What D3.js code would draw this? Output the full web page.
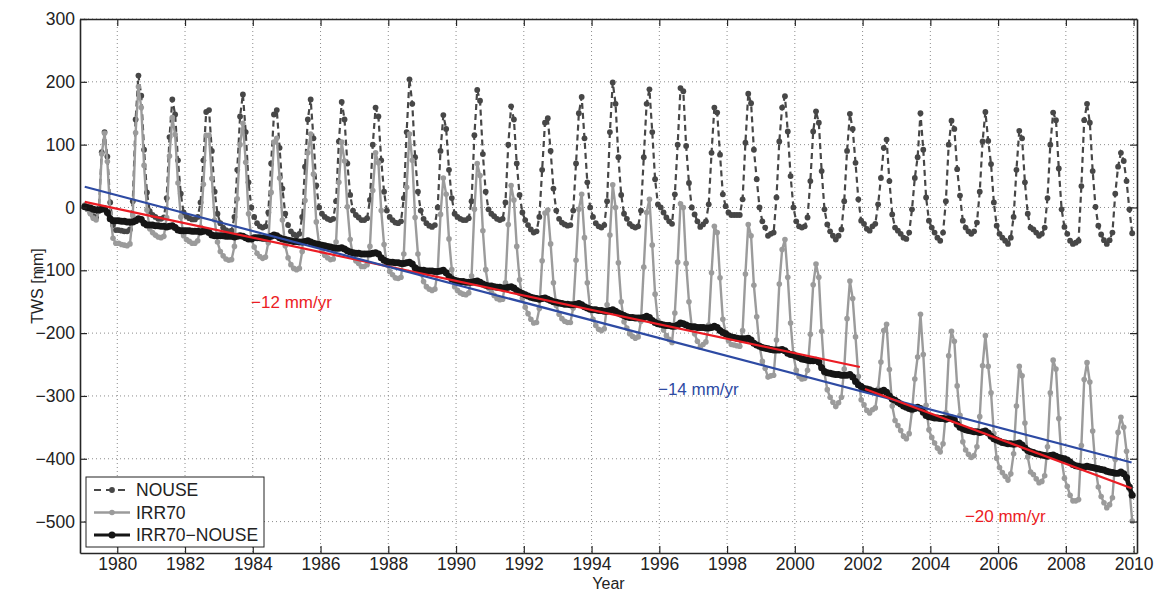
<!DOCTYPE html>
<html>
<head>
<meta charset="utf-8">
<script src="https://cdnjs.cloudflare.com/ajax/libs/d3/7.8.5/d3.min.js"></script>
<style>
  body { margin: 0; background: #fff; }
  svg { display: block; font-family: "Liberation Sans", Arial, Helvetica, sans-serif; }
</style>
</head>
<body>
<svg id="chart"></svg>
<script>
var width = 1154;
var height = 592;
var margin = {left: 80, right: 17, top: 19, bottom: 39};

// monthly values, Jan..Dec, one row per year
var years = [1979, 1980, 1981, 1982, 1983, 1984, 1985, 1986, 1987, 1988,
             1989, 1990, 1991, 1992, 1993, 1994, 1995, 1996, 1997, 1998,
             1999, 2000, 2001, 2002, 2003, 2004, 2005, 2006, 2007, 2008, 2009];

var nouse = [
  [3, -3, -9, -14, -16, -2, 88, 120, 81, 8, -28, -36],
  [-36, -37, -38, -38, -35, 10, 140, 210, 178, 92, 24, -6],
  [-12, -15, -18, -18, -16, 15, 112, 172, 148, 75, 22, -8],
  [-14, -17, -19, -19, -15, 8, 75, 152, 155, 90, 25, -10],
  [-25, -32, -36, -38, -37, -15, 60, 145, 180, 120, 40, 0],
  [-15, -25, -30, -32, -30, -8, 70, 148, 155, 95, 30, -10],
  [-28, -38, -43, -45, -42, -15, 65, 140, 172, 110, 35, 0],
  [-10, -15, -18, -20, -18, 10, 105, 168, 140, 70, 20, -5],
  [-12, -16, -20, -20, -17, 12, 100, 159, 145, 75, 25, -5],
  [-15, -20, -24, -25, -22, 15, 120, 204, 165, 80, 25, -5],
  [-18, -25, -29, -31, -28, 0, 90, 147, 125, 60, 15, -10],
  [-15, -18, -20, -20, -17, 10, 115, 187, 170, 85, 25, -3],
  [-10, -14, -18, -20, -18, 8, 100, 161, 140, 70, 20, -8],
  [-20, -28, -35, -40, -38, -15, 60, 135, 142, 90, 30, -5],
  [-18, -24, -27, -29, -28, -5, 70, 150, 176, 110, 40, 0],
  [-15, -25, -30, -32, -28, 10, 120, 199, 165, 80, 20, -10],
  [-18, -26, -30, -32, -30, -5, 80, 165, 188, 120, 45, 5],
  [0, -8, -16, -22, -26, 21, 100, 190, 185, 98, 39, 0],
  [-11, -22, -31, -27, -22, 5, 87, 159, 151, 84, 21, 2],
  [-8, -12, -12, -12, -12, 13, 103, 181, 166, 92, 45, 0],
  [-22, -32, -45, -42, -40, 16, 105, 159, 177, 121, 50, 0],
  [-22, -30, -32, -30, -16, 42, 121, 153, 135, 58, -3, -27],
  [-38, -45, -51, -45, -35, 10, 90, 149, 125, 71, 13, -21],
  [-26, -34, -37, -30, -26, 5, 47, 95, 108, 42, -11, -32],
  [-37, -42, -48, -50, -40, -3, 47, 80, 150, 92, 16, -21],
  [-32, -40, -48, -53, -40, 10, 100, 138, 125, 61, 19, -21],
  [-32, -38, -42, -38, -24, 25, 105, 152, 106, 69, 8, -29],
  [-42, -48, -53, -58, -48, -15, 60, 122, 110, 40, -10, -32],
  [-35, -40, -45, -42, -32, 15, 100, 151, 139, 62, -3, -31],
  [-42, -53, -58, -56, -53, 34, 139, 165, 135, 58, 1, -29],
  [-43, -52, -58, -52, -40, 22, 65, 87, 74, 42, -3, -41]
];

var irr70 = [
  [4, -3, -10, -17, -20, -6, 85, 118, 73, -10, -49, -57],
  [-57, -59, -60, -61, -58, -13, 119, 192, 159, 67, -4, -34],
  [-40, -44, -47, -48, -46, -16, 82, 143, 116, 39, -15, -45],
  [-51, -54, -57, -57, -53, -31, 37, 115, 115, 46, -20, -55],
  [-70, -77, -82, -84, -83, -62, 14, 100, 134, 72, -10, -50],
  [-63, -73, -78, -81, -79, -56, 24, 104, 110, 47, -20, -61],
  [-80, -91, -97, -99, -97, -70, 11, 87, 117, 53, -23, -59],
  [-70, -76, -80, -83, -82, -55, 40, 104, 74, 1, -51, -77],
  [-85, -89, -94, -94, -91, -62, 27, 87, 71, -5, -59, -91],
  [-102, -107, -112, -113, -111, -74, 32, 117, 75, -16, -74, -105],
  [-118, -126, -130, -132, -130, -102, -11, 47, 21, -50, -99, -126],
  [-132, -136, -138, -139, -136, -109, -3, 70, 51, -37, -99, -128],
  [-135, -140, -145, -147, -146, -120, -27, 35, 12, -62, -115, -145],
  [-159, -169, -178, -184, -183, -161, -85, -9, -4, -58, -120, -156],
  [-170, -177, -181, -183, -183, -160, -84, -3, 21, -48, -120, -162],
  [-178, -188, -194, -196, -193, -155, -44, 36, 0, -88, -150, -182],
  [-192, -201, -205, -208, -206, -181, -95, -8, 13, -60, -138, -180],
  [-186, -195, -204, -210, -215, -168, -87, 6, 0, -89, -150, -190],
  [-201, -213, -222, -218, -214, -187, -104, -30, -40, -112, -178, -199],
  [-212, -218, -219, -220, -221, -196, -106, -27, -45, -124, -174, -221],
  [-245, -256, -270, -268, -267, -211, -122, -67, -51, -111, -184, -235],
  [-259, -269, -273, -272, -259, -202, -123, -90, -111, -197, -264, -290],
  [-302, -310, -317, -311, -302, -257, -177, -117, -145, -206, -269, -306],
  [-314, -323, -327, -322, -319, -289, -246, -196, -186, -258, -316, -339],
  [-347, -355, -364, -368, -360, -324, -273, -238, -170, -234, -315, -354],
  [-366, -375, -383, -389, -376, -327, -236, -197, -213, -284, -331, -373],
  [-386, -393, -398, -395, -381, -333, -252, -204, -253, -295, -360, -399],
  [-414, -422, -428, -434, -424, -392, -316, -253, -268, -343, -397, -421],
  [-425, -432, -438, -436, -427, -381, -295, -243, -257, -336, -402, -431],
  [-444, -458, -467, -467, -465, -379, -274, -247, -278, -356, -414, -445],
  [-460, -470, -478, -473, -462, -401, -358, -334, -350, -388, -448, -499]
];

var irr70MinusNouse = [
  [1, 0, -1, -3, -4, -4, -3, -2, -8, -18, -21, -21],
  [-21, -22, -22, -23, -23, -23, -21, -18, -19, -25, -28, -28],
  [-28, -29, -29, -30, -30, -31, -30, -29, -32, -36, -37, -37],
  [-37, -37, -38, -38, -38, -39, -38, -37, -40, -44, -45, -45],
  [-45, -45, -46, -46, -46, -47, -46, -45, -46, -48, -50, -50],
  [-48, -48, -48, -49, -49, -48, -46, -44, -45, -48, -50, -51],
  [-52, -53, -54, -54, -55, -55, -54, -53, -55, -57, -58, -59],
  [-60, -61, -62, -63, -64, -65, -65, -64, -66, -69, -71, -72],
  [-73, -73, -74, -74, -74, -74, -73, -72, -74, -80, -84, -86],
  [-87, -87, -88, -88, -89, -89, -88, -87, -90, -96, -99, -100],
  [-100, -101, -101, -101, -102, -102, -101, -100, -104, -110, -114, -116],
  [-117, -118, -118, -119, -119, -119, -118, -117, -119, -122, -124, -125],
  [-125, -126, -127, -127, -128, -128, -127, -126, -128, -132, -135, -137],
  [-139, -141, -143, -144, -145, -146, -145, -144, -146, -148, -150, -151],
  [-152, -153, -154, -154, -155, -155, -154, -153, -155, -158, -160, -162],
  [-163, -163, -164, -164, -165, -165, -164, -163, -165, -168, -170, -172],
  [-174, -175, -175, -176, -176, -176, -175, -173, -175, -180, -183, -185],
  [-186, -187, -188, -188, -189, -189, -187, -184, -185, -187, -189, -190],
  [-190, -191, -191, -191, -192, -192, -191, -189, -191, -196, -199, -201],
  [-204, -206, -207, -208, -209, -209, -209, -208, -211, -216, -219, -221],
  [-223, -224, -225, -226, -227, -227, -227, -226, -228, -232, -234, -235],
  [-237, -239, -241, -242, -243, -244, -244, -243, -246, -255, -261, -263],
  [-264, -265, -266, -266, -267, -267, -267, -266, -270, -277, -282, -285],
  [-288, -289, -290, -292, -293, -294, -293, -291, -294, -300, -305, -307],
  [-310, -313, -316, -318, -320, -321, -320, -318, -320, -326, -331, -333],
  [-334, -335, -335, -336, -336, -337, -336, -335, -338, -345, -350, -352],
  [-354, -355, -356, -357, -357, -358, -357, -356, -359, -364, -368, -370],
  [-372, -374, -375, -376, -376, -377, -376, -375, -378, -383, -387, -389],
  [-390, -392, -393, -394, -395, -396, -395, -394, -396, -398, -399, -400],
  [-402, -405, -409, -411, -412, -413, -413, -412, -413, -414, -415, -416],
  [-417, -418, -420, -421, -422, -423, -423, -421, -424, -430, -445, -458]
];

// linear fits: [start year, start mm, end year, end mm]
var fit1979to2001 = [1979.04, 9, 2001.92, -254];
var fitWhole = [1979.04, 33, 2009.94, -406];
var fit2002to2009 = [2002.07, -289, 2009.94, -447];
var fitLabels = ["\u221212 mm/yr", "\u221214 mm/yr", "\u221220 mm/yr"];

var xTicks = [1980, 1982, 1984, 1986, 1988, 1990, 1992, 1994, 1996, 1998,
              2000, 2002, 2004, 2006, 2008, 2010];
var yTicks = [-500, -400, -300, -200, -100, 0, 100, 200, 300];
var seriesNames = ["NOUSE", "IRR70", "IRR70\u2212NOUSE"];

/////////////////////////////////////////

var svg = d3.select("#chart")
    .attr("width", width)
    .attr("height", height);

var x = d3.scaleLinear()
    .domain([1978.9, 2010.1])
    .range([margin.left, width - margin.right]);

var y = d3.scaleLinear()
    .domain([-550, 300])
    .range([height - margin.bottom, margin.top]);

function monthly(rows) {
  var out = [];
  rows.forEach(function(row, i) {
    row.forEach(function(v, m) {
      out.push({t: years[i] + (m + 0.5) / 12, v: v});
    });
  });
  return out;
}

function minusSign(d) {
  return d < 0 ? "\u2212" + Math.abs(d) : String(d);
}

svg.append("defs").append("clipPath")
    .attr("id", "plot-clip")
  .append("rect")
    .attr("x", margin.left)
    .attr("y", margin.top)
    .attr("width", width - margin.left - margin.right)
    .attr("height", height - margin.top - margin.bottom);

// dotted grid
var grid = svg.append("g").attr("class", "grid")
    .attr("stroke", "#8c8c8c")
    .attr("stroke-width", 1)
    .attr("stroke-dasharray", "1,3");

grid.selectAll(".vgrid")
  .data(xTicks)
  .enter().append("line")
    .attr("x1", function(d) { return x(d); })
    .attr("x2", function(d) { return x(d); })
    .attr("y1", margin.top)
    .attr("y2", height - margin.bottom);

grid.selectAll(".hgrid")
  .data(yTicks)
  .enter().append("line")
    .attr("x1", margin.left)
    .attr("x2", width - margin.right)
    .attr("y1", function(d) { return y(d); })
    .attr("y2", function(d) { return y(d); });

var line = d3.line()
    .x(function(d) { return x(d.t); })
    .y(function(d) { return y(d.v); });

var plot = svg.append("g").attr("clip-path", "url(#plot-clip)");

var series = [
  {data: monthly(nouse), color: "#474747", width: 2.2, dash: "6,4", r: 2.9},
  {data: monthly(irr70), color: "#9b9b9b", width: 2.4, dash: null, r: 2.8},
  {data: monthly(irr70MinusNouse), color: "#151515", width: 4.6, dash: null, r: 3.5}
];

series.forEach(function(s) {
  var g = plot.append("g");
  g.append("path")
      .datum(s.data)
      .attr("d", line)
      .attr("fill", "none")
      .attr("stroke", s.color)
      .attr("stroke-width", s.width)
      .attr("stroke-dasharray", s.dash);
  g.selectAll("circle")
    .data(s.data)
    .enter().append("circle")
      .attr("cx", function(d) { return x(d.t); })
      .attr("cy", function(d) { return y(d.v); })
      .attr("r", s.r)
      .attr("fill", s.color);
});

// trend lines
var fits = [
  {f: fit1979to2001, color: "#ec1c24"},
  {f: fitWhole, color: "#2d4aa3"},
  {f: fit2002to2009, color: "#ec1c24"}
];

plot.selectAll(".fit")
  .data(fits)
  .enter().append("line")
    .attr("class", "fit")
    .attr("x1", function(d) { return x(d.f[0]); })
    .attr("y1", function(d) { return y(d.f[1]); })
    .attr("x2", function(d) { return x(d.f[2]); })
    .attr("y2", function(d) { return y(d.f[3]); })
    .attr("stroke", function(d) { return d.color; })
    .attr("stroke-width", 2.2);

// rate labels (anchored in data units)
var labelSpots = [
  {text: fitLabels[0], t: 1983.95, v: -160, color: "#ec1c24"},
  {text: fitLabels[1], t: 1995.96, v: -299, color: "#2d4aa3"},
  {text: fitLabels[2], t: 2005.02, v: -501, color: "#ec1c24"}
];

svg.selectAll(".rate")
  .data(labelSpots)
  .enter().append("text")
    .attr("class", "rate")
    .attr("x", function(d) { return x(d.t); })
    .attr("y", function(d) { return y(d.v); })
    .attr("fill", function(d) { return d.color; })
    .attr("font-size", "17px")
    .text(function(d) { return d.text; });

// axes, ticks pointing inward on all four sides
var axisB = svg.append("g")
    .attr("transform", "translate(0," + (height - margin.bottom) + ")")
    .call(d3.axisBottom(x).tickValues(xTicks).tickSizeInner(-7).tickSizeOuter(0)
      .tickPadding(5).tickFormat(d3.format("d")));

var axisL = svg.append("g")
    .attr("transform", "translate(" + margin.left + ",0)")
    .call(d3.axisLeft(y).tickValues(yTicks).tickSizeInner(-7).tickSizeOuter(0)
      .tickPadding(5).tickFormat(minusSign));

var axisT = svg.append("g")
    .attr("transform", "translate(0," + margin.top + ")")
    .call(d3.axisTop(x).tickValues(xTicks).tickSizeInner(-7).tickSizeOuter(0).tickFormat(""));

var axisR = svg.append("g")
    .attr("transform", "translate(" + (width - margin.right) + ",0)")
    .call(d3.axisRight(y).tickValues(yTicks).tickSizeInner(-7).tickSizeOuter(0).tickFormat(""));

[axisB, axisL, axisT, axisR].forEach(function(a) {
  a.attr("font-family", null).attr("font-size", null);
  a.selectAll(".domain").attr("stroke", "#262626").attr("stroke-width", 1.6);
  a.selectAll(".tick line").attr("stroke", "#262626").attr("stroke-width", 1.2);
  a.selectAll(".tick text").attr("fill", "#222").attr("font-size", "17.5px");
});

svg.append("text")
    .attr("x", (margin.left + width - margin.right) / 2)
    .attr("y", 588.5)
    .attr("text-anchor", "middle")
    .attr("font-size", "16px")
    .attr("fill", "#222")
    .text("Year");

svg.append("text")
    .attr("transform", "translate(43," + ((margin.top + height - margin.bottom) / 2) + ") rotate(-90)")
    .attr("text-anchor", "middle")
    .attr("font-size", "16px")
    .attr("fill", "#222")
    .text("TWS [mm]");

// legend
var legend = svg.append("g").attr("transform", "translate(86,477)");

legend.append("rect")
    .attr("width", 178)
    .attr("height", 70)
    .attr("fill", "#fff")
    .attr("stroke", "#222")
    .attr("stroke-width", 1);

var item = legend.selectAll(".item")
  .data(series)
  .enter().append("g")
    .attr("class", "item")
    .attr("transform", function(d, i) { return "translate(0," + (13 + i * 22.5) + ")"; });

item.append("line")
    .attr("x1", 8).attr("x2", 44)
    .attr("stroke", function(d) { return d.color; })
    .attr("stroke-width", function(d) { return Math.min(d.width, 3); })
    .attr("stroke-dasharray", function(d) { return d.dash ? "7,5" : null; });

item.append("circle")
    .attr("cx", 26)
    .attr("r", function(d) { return d.r; })
    .attr("fill", function(d) { return d.color; });

item.append("text")
    .attr("x", 50)
    .attr("dy", "0.35em")
    .attr("font-size", "17.5px")
    .attr("fill", "#222")
    .text(function(d, i) { return seriesNames[i]; });
</script>
</body>
</html>
